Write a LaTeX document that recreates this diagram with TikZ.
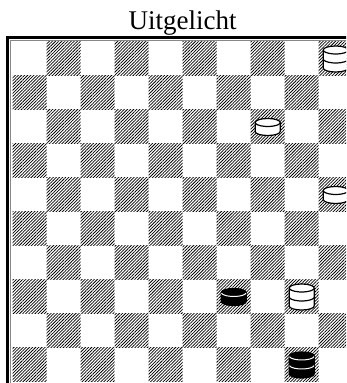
\documentclass[tikz,border=0pt]{standalone}
\usepackage{fontspec}
\setmainfont{Liberation Serif}
\usetikzlibrary{patterns.meta}
\definecolor{boardgrey}{RGB}{135,135,135}
\tikzset{
  dsquare/.style={pattern={Lines[angle=45,distance=2.2pt,line width=0.75pt]}, pattern color=black},
  bframe/.style={line width=3.2pt, black},
  bframein/.style={line width=0.8pt, boardgrey},
  wbody/.style={draw=black, fill=white, line width=1.2pt, line join=round},
  bbody/.style={draw=black, fill=black, line width=1.2pt, line join=round},
  wrim/.style={black, line width=1.2pt},
  brim/.style={white, line width=1pt},
  title/.style={font=\fontsize{27}{30}\selectfont, anchor=base},
}
% col, row, body style, rim style, height, rim levels
\newcommand{\piece}[6]{%
  \begin{scope}[shift={({12.7+(#1+0.5)*34},{341-(#2+0.5)*34})}]
    \path[#3] (-12.5,-#5/2) -- (-12.5,#5/2)
      arc[start angle=180,end angle=0,x radius=12.5,y radius=4]
      -- (12.5,-#5/2) arc[start angle=0,end angle=-180,x radius=12.5,y radius=4] -- cycle;
    \foreach \lvl in {#6}
      \draw[#4] (0,\lvl) ++(190:12.5 and 4) arc[start angle=190,end angle=350,x radius=12.5,y radius=4];
  \end{scope}}

\begin{document}
\begin{tikzpicture}[x=1pt,y=1pt]
  \useasboundingbox (0,0) rectangle (346,383);
  \clip (0,0) rectangle (346,383);
  \node[title] (head) at (182.7,353) {Uitgelicht};
  % hatched squares
  \foreach \r in {0,...,9}
    \foreach \c in {0,2,...,8} {
      \pgfmathtruncatemacro\col{\c+1-mod(\r,2)}
      \path[dsquare] ({12.7+\col*34},{341-\r*34}) rectangle ++(34,-34);
    }
  \draw[bframein] (10.2,-10) -- (10.2,342.8) -- (360,342.8);
  \draw[bframe] (7.7,-10) -- (7.7,345.3) -- (360,345.3);
  % pieces
  \piece{9}{0}{wbody}{wrim}{18}{0,9}
  \piece{7}{2}{wbody}{wrim}{9}{4.5}
  \piece{9}{4}{wbody}{wrim}{9}{4.5}
  \piece{6}{7}{bbody}{brim}{9}{4.5}
  \piece{8}{7}{wbody}{wrim}{18}{0,9}
  \piece{8}{9}{bbody}{brim}{18}{0,9}
\end{tikzpicture}
\end{document}
